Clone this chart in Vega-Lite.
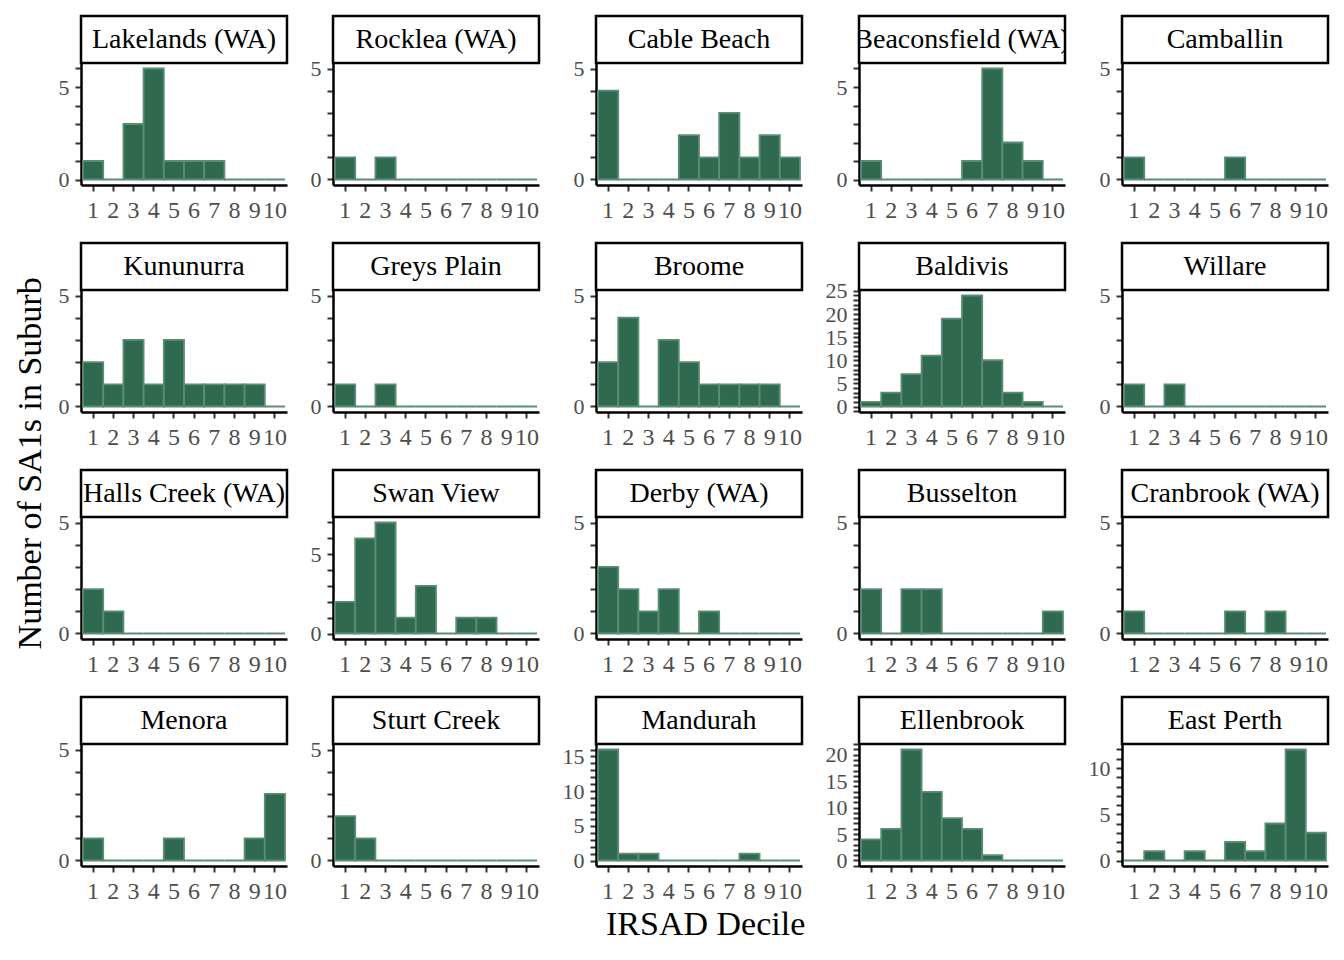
{
"$schema":"https://vega.github.io/schema/vega-lite/v6.json",
"padding":{"left":13,"top":14,"right":5,"bottom":5},
"background":"white",
"config":{
 "view":{"stroke":null},
 "font":"Liberation Serif",
 "axis":{"domainColor":"black","domainWidth":2.5,"tickColor":"#333333","tickWidth":2,"tickSize":6,"labelColor":"#4d4d4d","labelFont":"Liberation Serif","labelFontSize":24,"grid":false,"title":null},
 "axisX":{"labelAngle":0,"labelPadding":7,"labelOverlap":false,"labelBound":false},
 "axisY":{"labelPadding":6,"labelFontSize":22,"tickCount":40,"tickMinStep":1,"labelOverlap":false},
 "title":{"font":"Liberation Serif","fontSize":34,"fontWeight":"normal","color":"black","anchor":"middle"}
},
"datasets":{"d":[
{"suburb":"Lakelands (WA)","decile":1,"count":1},{"suburb":"Lakelands (WA)","decile":2,"count":0},{"suburb":"Lakelands (WA)","decile":3,"count":3},{"suburb":"Lakelands (WA)","decile":4,"count":6},{"suburb":"Lakelands (WA)","decile":5,"count":1},{"suburb":"Lakelands (WA)","decile":6,"count":1},{"suburb":"Lakelands (WA)","decile":7,"count":1},{"suburb":"Lakelands (WA)","decile":8,"count":0},{"suburb":"Lakelands (WA)","decile":9,"count":0},{"suburb":"Lakelands (WA)","decile":10,"count":0},
{"suburb":"Rocklea (WA)","decile":1,"count":1},{"suburb":"Rocklea (WA)","decile":2,"count":0},{"suburb":"Rocklea (WA)","decile":3,"count":1},{"suburb":"Rocklea (WA)","decile":4,"count":0},{"suburb":"Rocklea (WA)","decile":5,"count":0},{"suburb":"Rocklea (WA)","decile":6,"count":0},{"suburb":"Rocklea (WA)","decile":7,"count":0},{"suburb":"Rocklea (WA)","decile":8,"count":0},{"suburb":"Rocklea (WA)","decile":9,"count":0},{"suburb":"Rocklea (WA)","decile":10,"count":0},
{"suburb":"Cable Beach","decile":1,"count":4},{"suburb":"Cable Beach","decile":2,"count":0},{"suburb":"Cable Beach","decile":3,"count":0},{"suburb":"Cable Beach","decile":4,"count":0},{"suburb":"Cable Beach","decile":5,"count":2},{"suburb":"Cable Beach","decile":6,"count":1},{"suburb":"Cable Beach","decile":7,"count":3},{"suburb":"Cable Beach","decile":8,"count":1},{"suburb":"Cable Beach","decile":9,"count":2},{"suburb":"Cable Beach","decile":10,"count":1},
{"suburb":"Beaconsfield (WA)","decile":1,"count":1},{"suburb":"Beaconsfield (WA)","decile":2,"count":0},{"suburb":"Beaconsfield (WA)","decile":3,"count":0},{"suburb":"Beaconsfield (WA)","decile":4,"count":0},{"suburb":"Beaconsfield (WA)","decile":5,"count":0},{"suburb":"Beaconsfield (WA)","decile":6,"count":1},{"suburb":"Beaconsfield (WA)","decile":7,"count":6},{"suburb":"Beaconsfield (WA)","decile":8,"count":2},{"suburb":"Beaconsfield (WA)","decile":9,"count":1},{"suburb":"Beaconsfield (WA)","decile":10,"count":0},
{"suburb":"Camballin","decile":1,"count":1},{"suburb":"Camballin","decile":2,"count":0},{"suburb":"Camballin","decile":3,"count":0},{"suburb":"Camballin","decile":4,"count":0},{"suburb":"Camballin","decile":5,"count":0},{"suburb":"Camballin","decile":6,"count":1},{"suburb":"Camballin","decile":7,"count":0},{"suburb":"Camballin","decile":8,"count":0},{"suburb":"Camballin","decile":9,"count":0},{"suburb":"Camballin","decile":10,"count":0},
{"suburb":"Kununurra","decile":1,"count":2},{"suburb":"Kununurra","decile":2,"count":1},{"suburb":"Kununurra","decile":3,"count":3},{"suburb":"Kununurra","decile":4,"count":1},{"suburb":"Kununurra","decile":5,"count":3},{"suburb":"Kununurra","decile":6,"count":1},{"suburb":"Kununurra","decile":7,"count":1},{"suburb":"Kununurra","decile":8,"count":1},{"suburb":"Kununurra","decile":9,"count":1},{"suburb":"Kununurra","decile":10,"count":0},
{"suburb":"Greys Plain","decile":1,"count":1},{"suburb":"Greys Plain","decile":2,"count":0},{"suburb":"Greys Plain","decile":3,"count":1},{"suburb":"Greys Plain","decile":4,"count":0},{"suburb":"Greys Plain","decile":5,"count":0},{"suburb":"Greys Plain","decile":6,"count":0},{"suburb":"Greys Plain","decile":7,"count":0},{"suburb":"Greys Plain","decile":8,"count":0},{"suburb":"Greys Plain","decile":9,"count":0},{"suburb":"Greys Plain","decile":10,"count":0},
{"suburb":"Broome","decile":1,"count":2},{"suburb":"Broome","decile":2,"count":4},{"suburb":"Broome","decile":3,"count":0},{"suburb":"Broome","decile":4,"count":3},{"suburb":"Broome","decile":5,"count":2},{"suburb":"Broome","decile":6,"count":1},{"suburb":"Broome","decile":7,"count":1},{"suburb":"Broome","decile":8,"count":1},{"suburb":"Broome","decile":9,"count":1},{"suburb":"Broome","decile":10,"count":0},
{"suburb":"Baldivis","decile":1,"count":1},{"suburb":"Baldivis","decile":2,"count":3},{"suburb":"Baldivis","decile":3,"count":7},{"suburb":"Baldivis","decile":4,"count":11},{"suburb":"Baldivis","decile":5,"count":19},{"suburb":"Baldivis","decile":6,"count":24},{"suburb":"Baldivis","decile":7,"count":10},{"suburb":"Baldivis","decile":8,"count":3},{"suburb":"Baldivis","decile":9,"count":1},{"suburb":"Baldivis","decile":10,"count":0},
{"suburb":"Willare","decile":1,"count":1},{"suburb":"Willare","decile":2,"count":0},{"suburb":"Willare","decile":3,"count":1},{"suburb":"Willare","decile":4,"count":0},{"suburb":"Willare","decile":5,"count":0},{"suburb":"Willare","decile":6,"count":0},{"suburb":"Willare","decile":7,"count":0},{"suburb":"Willare","decile":8,"count":0},{"suburb":"Willare","decile":9,"count":0},{"suburb":"Willare","decile":10,"count":0},
{"suburb":"Halls Creek (WA)","decile":1,"count":2},{"suburb":"Halls Creek (WA)","decile":2,"count":1},{"suburb":"Halls Creek (WA)","decile":3,"count":0},{"suburb":"Halls Creek (WA)","decile":4,"count":0},{"suburb":"Halls Creek (WA)","decile":5,"count":0},{"suburb":"Halls Creek (WA)","decile":6,"count":0},{"suburb":"Halls Creek (WA)","decile":7,"count":0},{"suburb":"Halls Creek (WA)","decile":8,"count":0},{"suburb":"Halls Creek (WA)","decile":9,"count":0},{"suburb":"Halls Creek (WA)","decile":10,"count":0},
{"suburb":"Swan View","decile":1,"count":2},{"suburb":"Swan View","decile":2,"count":6},{"suburb":"Swan View","decile":3,"count":7},{"suburb":"Swan View","decile":4,"count":1},{"suburb":"Swan View","decile":5,"count":3},{"suburb":"Swan View","decile":6,"count":0},{"suburb":"Swan View","decile":7,"count":1},{"suburb":"Swan View","decile":8,"count":1},{"suburb":"Swan View","decile":9,"count":0},{"suburb":"Swan View","decile":10,"count":0},
{"suburb":"Derby (WA)","decile":1,"count":3},{"suburb":"Derby (WA)","decile":2,"count":2},{"suburb":"Derby (WA)","decile":3,"count":1},{"suburb":"Derby (WA)","decile":4,"count":2},{"suburb":"Derby (WA)","decile":5,"count":0},{"suburb":"Derby (WA)","decile":6,"count":1},{"suburb":"Derby (WA)","decile":7,"count":0},{"suburb":"Derby (WA)","decile":8,"count":0},{"suburb":"Derby (WA)","decile":9,"count":0},{"suburb":"Derby (WA)","decile":10,"count":0},
{"suburb":"Busselton","decile":1,"count":2},{"suburb":"Busselton","decile":2,"count":0},{"suburb":"Busselton","decile":3,"count":2},{"suburb":"Busselton","decile":4,"count":2},{"suburb":"Busselton","decile":5,"count":0},{"suburb":"Busselton","decile":6,"count":0},{"suburb":"Busselton","decile":7,"count":0},{"suburb":"Busselton","decile":8,"count":0},{"suburb":"Busselton","decile":9,"count":0},{"suburb":"Busselton","decile":10,"count":1},
{"suburb":"Cranbrook (WA)","decile":1,"count":1},{"suburb":"Cranbrook (WA)","decile":2,"count":0},{"suburb":"Cranbrook (WA)","decile":3,"count":0},{"suburb":"Cranbrook (WA)","decile":4,"count":0},{"suburb":"Cranbrook (WA)","decile":5,"count":0},{"suburb":"Cranbrook (WA)","decile":6,"count":1},{"suburb":"Cranbrook (WA)","decile":7,"count":0},{"suburb":"Cranbrook (WA)","decile":8,"count":1},{"suburb":"Cranbrook (WA)","decile":9,"count":0},{"suburb":"Cranbrook (WA)","decile":10,"count":0},
{"suburb":"Menora","decile":1,"count":1},{"suburb":"Menora","decile":2,"count":0},{"suburb":"Menora","decile":3,"count":0},{"suburb":"Menora","decile":4,"count":0},{"suburb":"Menora","decile":5,"count":1},{"suburb":"Menora","decile":6,"count":0},{"suburb":"Menora","decile":7,"count":0},{"suburb":"Menora","decile":8,"count":0},{"suburb":"Menora","decile":9,"count":1},{"suburb":"Menora","decile":10,"count":3},
{"suburb":"Sturt Creek","decile":1,"count":2},{"suburb":"Sturt Creek","decile":2,"count":1},{"suburb":"Sturt Creek","decile":3,"count":0},{"suburb":"Sturt Creek","decile":4,"count":0},{"suburb":"Sturt Creek","decile":5,"count":0},{"suburb":"Sturt Creek","decile":6,"count":0},{"suburb":"Sturt Creek","decile":7,"count":0},{"suburb":"Sturt Creek","decile":8,"count":0},{"suburb":"Sturt Creek","decile":9,"count":0},{"suburb":"Sturt Creek","decile":10,"count":0},
{"suburb":"Mandurah","decile":1,"count":16},{"suburb":"Mandurah","decile":2,"count":1},{"suburb":"Mandurah","decile":3,"count":1},{"suburb":"Mandurah","decile":4,"count":0},{"suburb":"Mandurah","decile":5,"count":0},{"suburb":"Mandurah","decile":6,"count":0},{"suburb":"Mandurah","decile":7,"count":0},{"suburb":"Mandurah","decile":8,"count":1},{"suburb":"Mandurah","decile":9,"count":0},{"suburb":"Mandurah","decile":10,"count":0},
{"suburb":"Ellenbrook","decile":1,"count":4},{"suburb":"Ellenbrook","decile":2,"count":6},{"suburb":"Ellenbrook","decile":3,"count":21},{"suburb":"Ellenbrook","decile":4,"count":13},{"suburb":"Ellenbrook","decile":5,"count":8},{"suburb":"Ellenbrook","decile":6,"count":6},{"suburb":"Ellenbrook","decile":7,"count":1},{"suburb":"Ellenbrook","decile":8,"count":0},{"suburb":"Ellenbrook","decile":9,"count":0},{"suburb":"Ellenbrook","decile":10,"count":0},
{"suburb":"East Perth","decile":1,"count":0},{"suburb":"East Perth","decile":2,"count":1},{"suburb":"East Perth","decile":3,"count":0},{"suburb":"East Perth","decile":4,"count":1},{"suburb":"East Perth","decile":5,"count":0},{"suburb":"East Perth","decile":6,"count":2},{"suburb":"East Perth","decile":7,"count":1},{"suburb":"East Perth","decile":8,"count":4},{"suburb":"East Perth","decile":9,"count":12},{"suburb":"East Perth","decile":10,"count":3}
]},
"title":{"text":"Number of SA1s in Suburb","orient":"left","offset":10,"dx":15},
"vconcat":[{
"title":{"text":"IRSAD Decile","orient":"bottom","offset":5,"dx":12},
"columns":5,
"align":"each",
"spacing":{"row":19,"column":21},
"concat":[
{"spacing":0,"bounds":"flush","vconcat":[{"width":206,"height":47,"view":{"stroke":"black","strokeWidth":2.5},"data":{"name":"d"},"transform":[{"filter":"datum.suburb === 'Lakelands (WA)' && datum.decile === 1"}],"mark":{"type":"text","clip":true,"fontSize":28,"color":"black"},"encoding":{"text":{"field":"suburb"}}},
{"width":206,"height":122,"data":{"name":"d"},"transform":[{"filter":"datum.suburb === 'Lakelands (WA)'"}],"mark":{"type":"bar","fill":"#2f6a50","stroke":"#5b8c75","strokeWidth":1.8},"encoding":{"x":{"field":"decile","type":"ordinal","scale":{"paddingInner":0,"paddingOuter":0.1}},"y":{"field":"count","type":"quantitative","scale":{"domain":[0,6],"padding":5.5,"nice":false,"zero":false},"axis":{"labelExpr":"datum.value % 5 === 0 ? datum.label : ''"}},"y2":{"datum":0}}}]},
{"spacing":0,"bounds":"flush","vconcat":[{"width":206,"height":47,"view":{"stroke":"black","strokeWidth":2.5},"data":{"name":"d"},"transform":[{"filter":"datum.suburb === 'Rocklea (WA)' && datum.decile === 1"}],"mark":{"type":"text","clip":true,"fontSize":28,"color":"black"},"encoding":{"text":{"field":"suburb"}}},
{"width":206,"height":122,"data":{"name":"d"},"transform":[{"filter":"datum.suburb === 'Rocklea (WA)'"}],"mark":{"type":"bar","fill":"#2f6a50","stroke":"#5b8c75","strokeWidth":1.8},"encoding":{"x":{"field":"decile","type":"ordinal","scale":{"paddingInner":0,"paddingOuter":0.1}},"y":{"field":"count","type":"quantitative","scale":{"domain":[0,5],"padding":5.5,"nice":false,"zero":false},"axis":{"labelExpr":"datum.value % 5 === 0 ? datum.label : ''"}},"y2":{"datum":0}}}]},
{"spacing":0,"bounds":"flush","vconcat":[{"width":206,"height":47,"view":{"stroke":"black","strokeWidth":2.5},"data":{"name":"d"},"transform":[{"filter":"datum.suburb === 'Cable Beach' && datum.decile === 1"}],"mark":{"type":"text","clip":true,"fontSize":28,"color":"black"},"encoding":{"text":{"field":"suburb"}}},
{"width":206,"height":122,"data":{"name":"d"},"transform":[{"filter":"datum.suburb === 'Cable Beach'"}],"mark":{"type":"bar","fill":"#2f6a50","stroke":"#5b8c75","strokeWidth":1.8},"encoding":{"x":{"field":"decile","type":"ordinal","scale":{"paddingInner":0,"paddingOuter":0.1}},"y":{"field":"count","type":"quantitative","scale":{"domain":[0,5],"padding":5.5,"nice":false,"zero":false},"axis":{"labelExpr":"datum.value % 5 === 0 ? datum.label : ''"}},"y2":{"datum":0}}}]},
{"spacing":0,"bounds":"flush","vconcat":[{"width":206,"height":47,"view":{"stroke":"black","strokeWidth":2.5},"data":{"name":"d"},"transform":[{"filter":"datum.suburb === 'Beaconsfield (WA)' && datum.decile === 1"}],"mark":{"type":"text","clip":true,"fontSize":28,"color":"black"},"encoding":{"text":{"field":"suburb"}}},
{"width":206,"height":122,"data":{"name":"d"},"transform":[{"filter":"datum.suburb === 'Beaconsfield (WA)'"}],"mark":{"type":"bar","fill":"#2f6a50","stroke":"#5b8c75","strokeWidth":1.8},"encoding":{"x":{"field":"decile","type":"ordinal","scale":{"paddingInner":0,"paddingOuter":0.1}},"y":{"field":"count","type":"quantitative","scale":{"domain":[0,6],"padding":5.5,"nice":false,"zero":false},"axis":{"labelExpr":"datum.value % 5 === 0 ? datum.label : ''"}},"y2":{"datum":0}}}]},
{"spacing":0,"bounds":"flush","vconcat":[{"width":206,"height":47,"view":{"stroke":"black","strokeWidth":2.5},"data":{"name":"d"},"transform":[{"filter":"datum.suburb === 'Camballin' && datum.decile === 1"}],"mark":{"type":"text","clip":true,"fontSize":28,"color":"black"},"encoding":{"text":{"field":"suburb"}}},
{"width":206,"height":122,"data":{"name":"d"},"transform":[{"filter":"datum.suburb === 'Camballin'"}],"mark":{"type":"bar","fill":"#2f6a50","stroke":"#5b8c75","strokeWidth":1.8},"encoding":{"x":{"field":"decile","type":"ordinal","scale":{"paddingInner":0,"paddingOuter":0.1}},"y":{"field":"count","type":"quantitative","scale":{"domain":[0,5],"padding":5.5,"nice":false,"zero":false},"axis":{"labelExpr":"datum.value % 5 === 0 ? datum.label : ''"}},"y2":{"datum":0}}}]},
{"spacing":0,"bounds":"flush","vconcat":[{"width":206,"height":47,"view":{"stroke":"black","strokeWidth":2.5},"data":{"name":"d"},"transform":[{"filter":"datum.suburb === 'Kununurra' && datum.decile === 1"}],"mark":{"type":"text","clip":true,"fontSize":28,"color":"black"},"encoding":{"text":{"field":"suburb"}}},
{"width":206,"height":122,"data":{"name":"d"},"transform":[{"filter":"datum.suburb === 'Kununurra'"}],"mark":{"type":"bar","fill":"#2f6a50","stroke":"#5b8c75","strokeWidth":1.8},"encoding":{"x":{"field":"decile","type":"ordinal","scale":{"paddingInner":0,"paddingOuter":0.1}},"y":{"field":"count","type":"quantitative","scale":{"domain":[0,5],"padding":5.5,"nice":false,"zero":false},"axis":{"labelExpr":"datum.value % 5 === 0 ? datum.label : ''"}},"y2":{"datum":0}}}]},
{"spacing":0,"bounds":"flush","vconcat":[{"width":206,"height":47,"view":{"stroke":"black","strokeWidth":2.5},"data":{"name":"d"},"transform":[{"filter":"datum.suburb === 'Greys Plain' && datum.decile === 1"}],"mark":{"type":"text","clip":true,"fontSize":28,"color":"black"},"encoding":{"text":{"field":"suburb"}}},
{"width":206,"height":122,"data":{"name":"d"},"transform":[{"filter":"datum.suburb === 'Greys Plain'"}],"mark":{"type":"bar","fill":"#2f6a50","stroke":"#5b8c75","strokeWidth":1.8},"encoding":{"x":{"field":"decile","type":"ordinal","scale":{"paddingInner":0,"paddingOuter":0.1}},"y":{"field":"count","type":"quantitative","scale":{"domain":[0,5],"padding":5.5,"nice":false,"zero":false},"axis":{"labelExpr":"datum.value % 5 === 0 ? datum.label : ''"}},"y2":{"datum":0}}}]},
{"spacing":0,"bounds":"flush","vconcat":[{"width":206,"height":47,"view":{"stroke":"black","strokeWidth":2.5},"data":{"name":"d"},"transform":[{"filter":"datum.suburb === 'Broome' && datum.decile === 1"}],"mark":{"type":"text","clip":true,"fontSize":28,"color":"black"},"encoding":{"text":{"field":"suburb"}}},
{"width":206,"height":122,"data":{"name":"d"},"transform":[{"filter":"datum.suburb === 'Broome'"}],"mark":{"type":"bar","fill":"#2f6a50","stroke":"#5b8c75","strokeWidth":1.8},"encoding":{"x":{"field":"decile","type":"ordinal","scale":{"paddingInner":0,"paddingOuter":0.1}},"y":{"field":"count","type":"quantitative","scale":{"domain":[0,5],"padding":5.5,"nice":false,"zero":false},"axis":{"labelExpr":"datum.value % 5 === 0 ? datum.label : ''"}},"y2":{"datum":0}}}]},
{"spacing":0,"bounds":"flush","vconcat":[{"width":206,"height":47,"view":{"stroke":"black","strokeWidth":2.5},"data":{"name":"d"},"transform":[{"filter":"datum.suburb === 'Baldivis' && datum.decile === 1"}],"mark":{"type":"text","clip":true,"fontSize":28,"color":"black"},"encoding":{"text":{"field":"suburb"}}},
{"width":206,"height":122,"data":{"name":"d"},"transform":[{"filter":"datum.suburb === 'Baldivis'"}],"mark":{"type":"bar","fill":"#2f6a50","stroke":"#5b8c75","strokeWidth":1.8},"encoding":{"x":{"field":"decile","type":"ordinal","scale":{"paddingInner":0,"paddingOuter":0.1}},"y":{"field":"count","type":"quantitative","scale":{"domain":[0,24],"padding":5.5,"nice":false,"zero":false},"axis":{"labelExpr":"datum.value % 5 === 0 ? datum.label : ''"}},"y2":{"datum":0}}}]},
{"spacing":0,"bounds":"flush","vconcat":[{"width":206,"height":47,"view":{"stroke":"black","strokeWidth":2.5},"data":{"name":"d"},"transform":[{"filter":"datum.suburb === 'Willare' && datum.decile === 1"}],"mark":{"type":"text","clip":true,"fontSize":28,"color":"black"},"encoding":{"text":{"field":"suburb"}}},
{"width":206,"height":122,"data":{"name":"d"},"transform":[{"filter":"datum.suburb === 'Willare'"}],"mark":{"type":"bar","fill":"#2f6a50","stroke":"#5b8c75","strokeWidth":1.8},"encoding":{"x":{"field":"decile","type":"ordinal","scale":{"paddingInner":0,"paddingOuter":0.1}},"y":{"field":"count","type":"quantitative","scale":{"domain":[0,5],"padding":5.5,"nice":false,"zero":false},"axis":{"labelExpr":"datum.value % 5 === 0 ? datum.label : ''"}},"y2":{"datum":0}}}]},
{"spacing":0,"bounds":"flush","vconcat":[{"width":206,"height":47,"view":{"stroke":"black","strokeWidth":2.5},"data":{"name":"d"},"transform":[{"filter":"datum.suburb === 'Halls Creek (WA)' && datum.decile === 1"}],"mark":{"type":"text","clip":true,"fontSize":28,"color":"black"},"encoding":{"text":{"field":"suburb"}}},
{"width":206,"height":122,"data":{"name":"d"},"transform":[{"filter":"datum.suburb === 'Halls Creek (WA)'"}],"mark":{"type":"bar","fill":"#2f6a50","stroke":"#5b8c75","strokeWidth":1.8},"encoding":{"x":{"field":"decile","type":"ordinal","scale":{"paddingInner":0,"paddingOuter":0.1}},"y":{"field":"count","type":"quantitative","scale":{"domain":[0,5],"padding":5.5,"nice":false,"zero":false},"axis":{"labelExpr":"datum.value % 5 === 0 ? datum.label : ''"}},"y2":{"datum":0}}}]},
{"spacing":0,"bounds":"flush","vconcat":[{"width":206,"height":47,"view":{"stroke":"black","strokeWidth":2.5},"data":{"name":"d"},"transform":[{"filter":"datum.suburb === 'Swan View' && datum.decile === 1"}],"mark":{"type":"text","clip":true,"fontSize":28,"color":"black"},"encoding":{"text":{"field":"suburb"}}},
{"width":206,"height":122,"data":{"name":"d"},"transform":[{"filter":"datum.suburb === 'Swan View'"}],"mark":{"type":"bar","fill":"#2f6a50","stroke":"#5b8c75","strokeWidth":1.8},"encoding":{"x":{"field":"decile","type":"ordinal","scale":{"paddingInner":0,"paddingOuter":0.1}},"y":{"field":"count","type":"quantitative","scale":{"domain":[0,7],"padding":5.5,"nice":false,"zero":false},"axis":{"labelExpr":"datum.value % 5 === 0 ? datum.label : ''"}},"y2":{"datum":0}}}]},
{"spacing":0,"bounds":"flush","vconcat":[{"width":206,"height":47,"view":{"stroke":"black","strokeWidth":2.5},"data":{"name":"d"},"transform":[{"filter":"datum.suburb === 'Derby (WA)' && datum.decile === 1"}],"mark":{"type":"text","clip":true,"fontSize":28,"color":"black"},"encoding":{"text":{"field":"suburb"}}},
{"width":206,"height":122,"data":{"name":"d"},"transform":[{"filter":"datum.suburb === 'Derby (WA)'"}],"mark":{"type":"bar","fill":"#2f6a50","stroke":"#5b8c75","strokeWidth":1.8},"encoding":{"x":{"field":"decile","type":"ordinal","scale":{"paddingInner":0,"paddingOuter":0.1}},"y":{"field":"count","type":"quantitative","scale":{"domain":[0,5],"padding":5.5,"nice":false,"zero":false},"axis":{"labelExpr":"datum.value % 5 === 0 ? datum.label : ''"}},"y2":{"datum":0}}}]},
{"spacing":0,"bounds":"flush","vconcat":[{"width":206,"height":47,"view":{"stroke":"black","strokeWidth":2.5},"data":{"name":"d"},"transform":[{"filter":"datum.suburb === 'Busselton' && datum.decile === 1"}],"mark":{"type":"text","clip":true,"fontSize":28,"color":"black"},"encoding":{"text":{"field":"suburb"}}},
{"width":206,"height":122,"data":{"name":"d"},"transform":[{"filter":"datum.suburb === 'Busselton'"}],"mark":{"type":"bar","fill":"#2f6a50","stroke":"#5b8c75","strokeWidth":1.8},"encoding":{"x":{"field":"decile","type":"ordinal","scale":{"paddingInner":0,"paddingOuter":0.1}},"y":{"field":"count","type":"quantitative","scale":{"domain":[0,5],"padding":5.5,"nice":false,"zero":false},"axis":{"labelExpr":"datum.value % 5 === 0 ? datum.label : ''"}},"y2":{"datum":0}}}]},
{"spacing":0,"bounds":"flush","vconcat":[{"width":206,"height":47,"view":{"stroke":"black","strokeWidth":2.5},"data":{"name":"d"},"transform":[{"filter":"datum.suburb === 'Cranbrook (WA)' && datum.decile === 1"}],"mark":{"type":"text","clip":true,"fontSize":28,"color":"black"},"encoding":{"text":{"field":"suburb"}}},
{"width":206,"height":122,"data":{"name":"d"},"transform":[{"filter":"datum.suburb === 'Cranbrook (WA)'"}],"mark":{"type":"bar","fill":"#2f6a50","stroke":"#5b8c75","strokeWidth":1.8},"encoding":{"x":{"field":"decile","type":"ordinal","scale":{"paddingInner":0,"paddingOuter":0.1}},"y":{"field":"count","type":"quantitative","scale":{"domain":[0,5],"padding":5.5,"nice":false,"zero":false},"axis":{"labelExpr":"datum.value % 5 === 0 ? datum.label : ''"}},"y2":{"datum":0}}}]},
{"spacing":0,"bounds":"flush","vconcat":[{"width":206,"height":47,"view":{"stroke":"black","strokeWidth":2.5},"data":{"name":"d"},"transform":[{"filter":"datum.suburb === 'Menora' && datum.decile === 1"}],"mark":{"type":"text","clip":true,"fontSize":28,"color":"black"},"encoding":{"text":{"field":"suburb"}}},
{"width":206,"height":122,"data":{"name":"d"},"transform":[{"filter":"datum.suburb === 'Menora'"}],"mark":{"type":"bar","fill":"#2f6a50","stroke":"#5b8c75","strokeWidth":1.8},"encoding":{"x":{"field":"decile","type":"ordinal","scale":{"paddingInner":0,"paddingOuter":0.1}},"y":{"field":"count","type":"quantitative","scale":{"domain":[0,5],"padding":5.5,"nice":false,"zero":false},"axis":{"labelExpr":"datum.value % 5 === 0 ? datum.label : ''"}},"y2":{"datum":0}}}]},
{"spacing":0,"bounds":"flush","vconcat":[{"width":206,"height":47,"view":{"stroke":"black","strokeWidth":2.5},"data":{"name":"d"},"transform":[{"filter":"datum.suburb === 'Sturt Creek' && datum.decile === 1"}],"mark":{"type":"text","clip":true,"fontSize":28,"color":"black"},"encoding":{"text":{"field":"suburb"}}},
{"width":206,"height":122,"data":{"name":"d"},"transform":[{"filter":"datum.suburb === 'Sturt Creek'"}],"mark":{"type":"bar","fill":"#2f6a50","stroke":"#5b8c75","strokeWidth":1.8},"encoding":{"x":{"field":"decile","type":"ordinal","scale":{"paddingInner":0,"paddingOuter":0.1}},"y":{"field":"count","type":"quantitative","scale":{"domain":[0,5],"padding":5.5,"nice":false,"zero":false},"axis":{"labelExpr":"datum.value % 5 === 0 ? datum.label : ''"}},"y2":{"datum":0}}}]},
{"spacing":0,"bounds":"flush","vconcat":[{"width":206,"height":47,"view":{"stroke":"black","strokeWidth":2.5},"data":{"name":"d"},"transform":[{"filter":"datum.suburb === 'Mandurah' && datum.decile === 1"}],"mark":{"type":"text","clip":true,"fontSize":28,"color":"black"},"encoding":{"text":{"field":"suburb"}}},
{"width":206,"height":122,"data":{"name":"d"},"transform":[{"filter":"datum.suburb === 'Mandurah'"}],"mark":{"type":"bar","fill":"#2f6a50","stroke":"#5b8c75","strokeWidth":1.8},"encoding":{"x":{"field":"decile","type":"ordinal","scale":{"paddingInner":0,"paddingOuter":0.1}},"y":{"field":"count","type":"quantitative","scale":{"domain":[0,16],"padding":5.5,"nice":false,"zero":false},"axis":{"labelExpr":"datum.value % 5 === 0 ? datum.label : ''"}},"y2":{"datum":0}}}]},
{"spacing":0,"bounds":"flush","vconcat":[{"width":206,"height":47,"view":{"stroke":"black","strokeWidth":2.5},"data":{"name":"d"},"transform":[{"filter":"datum.suburb === 'Ellenbrook' && datum.decile === 1"}],"mark":{"type":"text","clip":true,"fontSize":28,"color":"black"},"encoding":{"text":{"field":"suburb"}}},
{"width":206,"height":122,"data":{"name":"d"},"transform":[{"filter":"datum.suburb === 'Ellenbrook'"}],"mark":{"type":"bar","fill":"#2f6a50","stroke":"#5b8c75","strokeWidth":1.8},"encoding":{"x":{"field":"decile","type":"ordinal","scale":{"paddingInner":0,"paddingOuter":0.1}},"y":{"field":"count","type":"quantitative","scale":{"domain":[0,21],"padding":5.5,"nice":false,"zero":false},"axis":{"labelExpr":"datum.value % 5 === 0 ? datum.label : ''"}},"y2":{"datum":0}}}]},
{"spacing":0,"bounds":"flush","vconcat":[{"width":206,"height":47,"view":{"stroke":"black","strokeWidth":2.5},"data":{"name":"d"},"transform":[{"filter":"datum.suburb === 'East Perth' && datum.decile === 1"}],"mark":{"type":"text","clip":true,"fontSize":28,"color":"black"},"encoding":{"text":{"field":"suburb"}}},
{"width":206,"height":122,"data":{"name":"d"},"transform":[{"filter":"datum.suburb === 'East Perth'"}],"mark":{"type":"bar","fill":"#2f6a50","stroke":"#5b8c75","strokeWidth":1.8},"encoding":{"x":{"field":"decile","type":"ordinal","scale":{"paddingInner":0,"paddingOuter":0.1}},"y":{"field":"count","type":"quantitative","scale":{"domain":[0,12],"padding":5.5,"nice":false,"zero":false},"axis":{"labelExpr":"datum.value % 5 === 0 ? datum.label : ''"}},"y2":{"datum":0}}}]}
]}]
}
